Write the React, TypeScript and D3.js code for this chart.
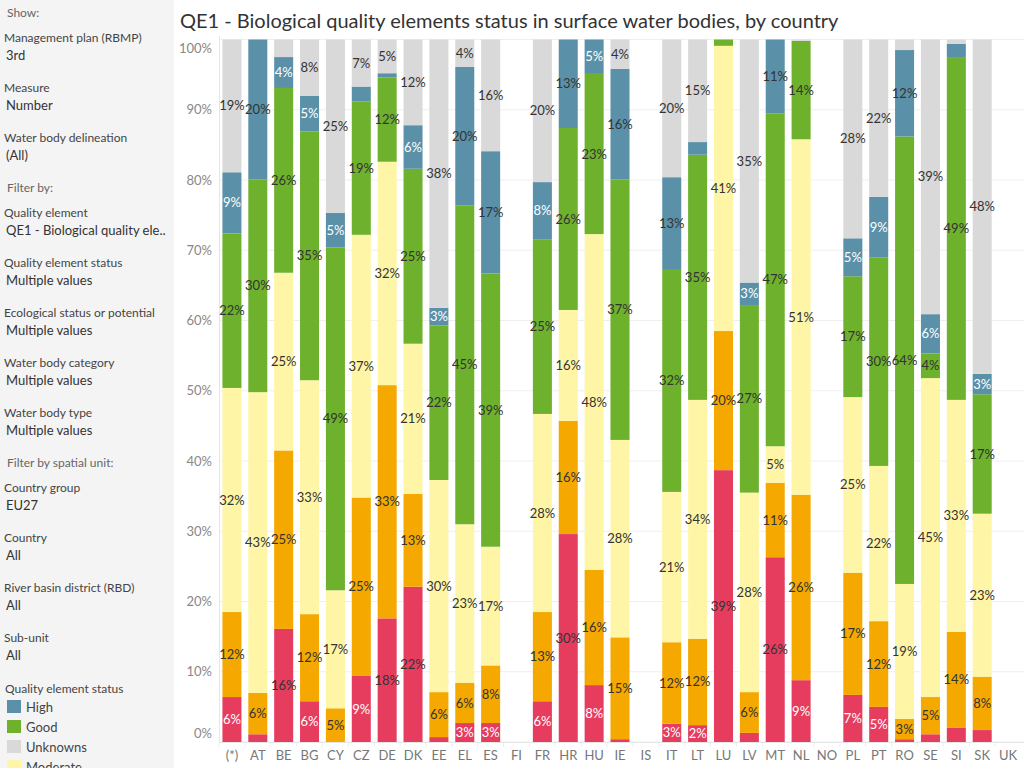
import React from "react";
import * as d3 from "d3";

const countries = ["(*)","AT","BE","BG","CY","CZ","DE","DK","EE","EL","ES","FI","FR","HR","HU","IE","IS","IT","LT","LU","LV","MT","NL","NO","PL","PT","RO","SE","SI","SK","UK"];

const bad =      [6.4,1.1,16.1,5.8,0,9.4,17.6,22.1,0.7,2.7,2.7,0,5.8,29.6,8.1,0.4,0,2.6,2.4,38.7,1.3,26.3,8.8,0,6.7,5.0,0.4,1.1,2.0,1.7,0];
const poor =     [12.1,5.9,25.4,12.4,4.8,25.4,33.2,13.2,6.4,5.7,8.2,0,12.7,16.1,16.4,14.5,0,11.6,12.3,19.8,5.8,10.6,26.4,0,17.4,12.2,2.9,5.3,13.7,7.6,0];
const moderate = [31.9,42.8,25.3,33.3,16.8,37.4,31.8,21.4,30.2,22.6,16.9,0,28.2,15.8,47.8,28.1,0,21.4,34.0,40.6,28.4,5.2,50.6,0,25.0,22.1,19.2,45.4,33.0,23.2,0];
const good =     [22.0,30.3,26.3,35.4,48.8,19.0,12.0,24.9,22.0,45.4,38.9,0,24.8,25.9,22.8,37.1,0,31.6,34.9,0.9,26.7,47.4,14.0,0,17.2,29.7,63.7,3.5,48.8,17.0,0];
const high =     [8.7,19.9,4.4,5.1,4.9,2.1,0.6,6.2,2.5,19.7,17.4,0,8.2,12.6,4.9,15.7,0,13.2,1.8,0,3.2,10.5,0,0,5.4,8.6,12.3,5.6,1.9,2.9,0];
const unknowns = [18.9,0,2.5,8.0,24.7,6.7,4.8,12.2,38.2,3.9,15.9,0,20.3,0,0,4.2,0,19.6,14.6,0,34.6,0,0.2,0,28.3,22.4,1.5,39.1,0.6,47.6,0];

const statusKeys = ["Bad","Poor","Moderate","Good","High","Unknowns"];
const statusValues = [bad, poor, moderate, good, high, unknowns];
const statusColors = ["#e63d5f","#f5a800","#fff5a6","#6eb12c","#5a91a9","#d9d9d9"];
const darkLabelWhite = ["Bad","High"];

const yTicks = [0,10,20,30,40,50,60,70,80,90,100];

const legendOrder = ["High","Good","Unknowns","Moderate","Poor","Bad"];

const panelItems: [string, string][] = [
  ["Management plan (RBMP)", "3rd"],
  ["Measure", "Number"],
  ["Water body delineation", "(All)"],
];
const filterItems: [string, string][] = [
  ["Quality element", "QE1 - Biological quality ele.."],
  ["Quality element status", "Multiple values"],
  ["Ecological status or potential", "Multiple values"],
  ["Water body category", "Multiple values"],
  ["Water body type", "Multiple values"],
];
const spatialItems: [string, string][] = [
  ["Country group", "EU27"],
  ["Country", "All"],
  ["River basin district (RBD)", "All"],
  ["Sub-unit", "All"],
];

const W = 1024, H = 768;
const FONT = "Lato, 'Noto Sans', sans-serif";

export default function App() {
  const x = d3.scaleBand<string>().domain(countries).range([219, 1021]).paddingInner(0.265).paddingOuter(0.1325);
  const y = d3.scaleLinear().domain([0, 100]).range([742, 39.5]);

  const rows = countries.map((c, i) => {
    const r: any = { country: c };
    statusKeys.forEach((k, j) => (r[k] = statusValues[j][i]));
    return r;
  });
  const series = d3.stack().keys(statusKeys)(rows);

  return (
    <div style={{ position: "absolute", left: 0, top: 0 }}>
      <svg width={W} height={H} style={{ display: "block", fontFamily: FONT }}>
        <rect x={0} y={0} width={W} height={H} fill="#ffffff" />
        <rect x={0} y={0} width={174} height={H} fill="#f4f4f4" />

        {/* Left panel */}
        <text x={7} y={13} dy="0.35em" fontSize={12} fill="#666">Show:</text>
        {panelItems.map((p, i) => (
          <g key={"p" + i}>
            <text x={4} y={38 + i * 50} dy="0.35em" fontSize={12} fill="#444">{p[0]}</text>
            <text x={6} y={55 + i * 50} dy="0.35em" fontSize={13} fill="#333">{p[1]}</text>
          </g>
        ))}
        <text x={7} y={188} dy="0.35em" fontSize={12} fill="#666">Filter by:</text>
        {filterItems.map((p, i) => (
          <g key={"f" + i}>
            <text x={4} y={213 + i * 50} dy="0.35em" fontSize={12} fill="#444">{p[0]}</text>
            <text x={6} y={230 + i * 50} dy="0.35em" fontSize={13} fill="#333">{p[1]}</text>
          </g>
        ))}
        <text x={7} y={463} dy="0.35em" fontSize={12} fill="#666">Filter by spatial unit:</text>
        {spatialItems.map((p, i) => (
          <g key={"s" + i}>
            <text x={4} y={488 + i * 50} dy="0.35em" fontSize={12} fill="#444">{p[0]}</text>
            <text x={6} y={505 + i * 50} dy="0.35em" fontSize={13} fill="#333">{p[1]}</text>
          </g>
        ))}
        <text x={5} y={689} dy="0.35em" fontSize={12} fill="#444">Quality element status</text>
        {legendOrder.map((k, i) => {
          const idx = statusKeys.indexOf(k);
          return (
            <g key={"l" + k}>
              <rect x={7} y={700 + i * 20} width={14} height={13} fill={statusColors[idx]} />
              <text x={26} y={707 + i * 20} dy="0.35em" fontSize={13} fill="#444">{k}</text>
            </g>
          );
        })}

        {/* Title */}
        <text x={180} y={21} dy="0.35em" fontSize={20} fill="#333">QE1 - Biological quality elements status in surface water bodies, by country</text>

        {/* Gridlines */}
        {yTicks.map((t) => (
          <line key={"g" + t} x1={219} x2={W} y1={y(t)} y2={y(t)} stroke="#efefef" strokeWidth={1} />
        ))}
        <line x1={219.5} x2={219.5} y1={36} y2={742} stroke="#e6e6e6" />
        <line x1={219} x2={W} y1={742.5} y2={742.5} stroke="#e6e6e6" />
        {countries.map((c, i) => {
          const xx = (x(c) as number) - (x.step() - x.bandwidth()) / 2;
          return <line key={"sep" + i} x1={xx} x2={xx} y1={743} y2={747} stroke="#eeeeee" />;
        })}

        {/* Y tick labels */}
        {yTicks.map((t) => {
          let ty = y(t);
          if (t === 100) ty = 48;
          if (t === 0) ty = 733;
          return (
            <text key={"yt" + t} x={212} y={ty} dy="0.35em" textAnchor="end" fontSize={13} fill="#888">{t + "%"}</text>
          );
        })}

        {/* X labels */}
        {countries.map((c) => (
          <text key={"xl" + c} x={(x(c) as number) + x.bandwidth() / 2} y={755} dy="0.35em" textAnchor="middle" fontSize={13} fill="#777">{c}</text>
        ))}

        {/* Bars */}
        {series.map((s, j) => (
          <g key={"s" + s.key}>
            {s.map((d: any, i: number) => {
              const v = d[1] - d[0];
              if (v <= 0) return null;
              return (
                <rect key={i} x={x(countries[i])} width={x.bandwidth()} y={y(d[1])} height={y(d[0]) - y(d[1])} fill={statusColors[j]} />
              );
            })}
          </g>
        ))}

        {/* Labels */}
        {series.map((s, j) => (
          <g key={"lab" + s.key}>
            {s.map((d: any, i: number) => {
              const h = y(d[0]) - y(d[1]);
              const cy = (y(d[0]) + y(d[1])) / 2;
              if (h < 16 || cy < 50) return null;
              const txt = Math.round(statusValues[j][i]) + "%";
              const white = darkLabelWhite.includes(s.key) && txt.length <= 2;
              return (
                <text key={i} x={(x(countries[i]) as number) + x.bandwidth() / 2} y={cy} dy="0.35em" textAnchor="middle" fontSize={13} fill={white ? "#ffffff" : "#333"}>{txt}</text>
              );
            })}
          </g>
        ))}
      </svg>
    </div>
  );
}
